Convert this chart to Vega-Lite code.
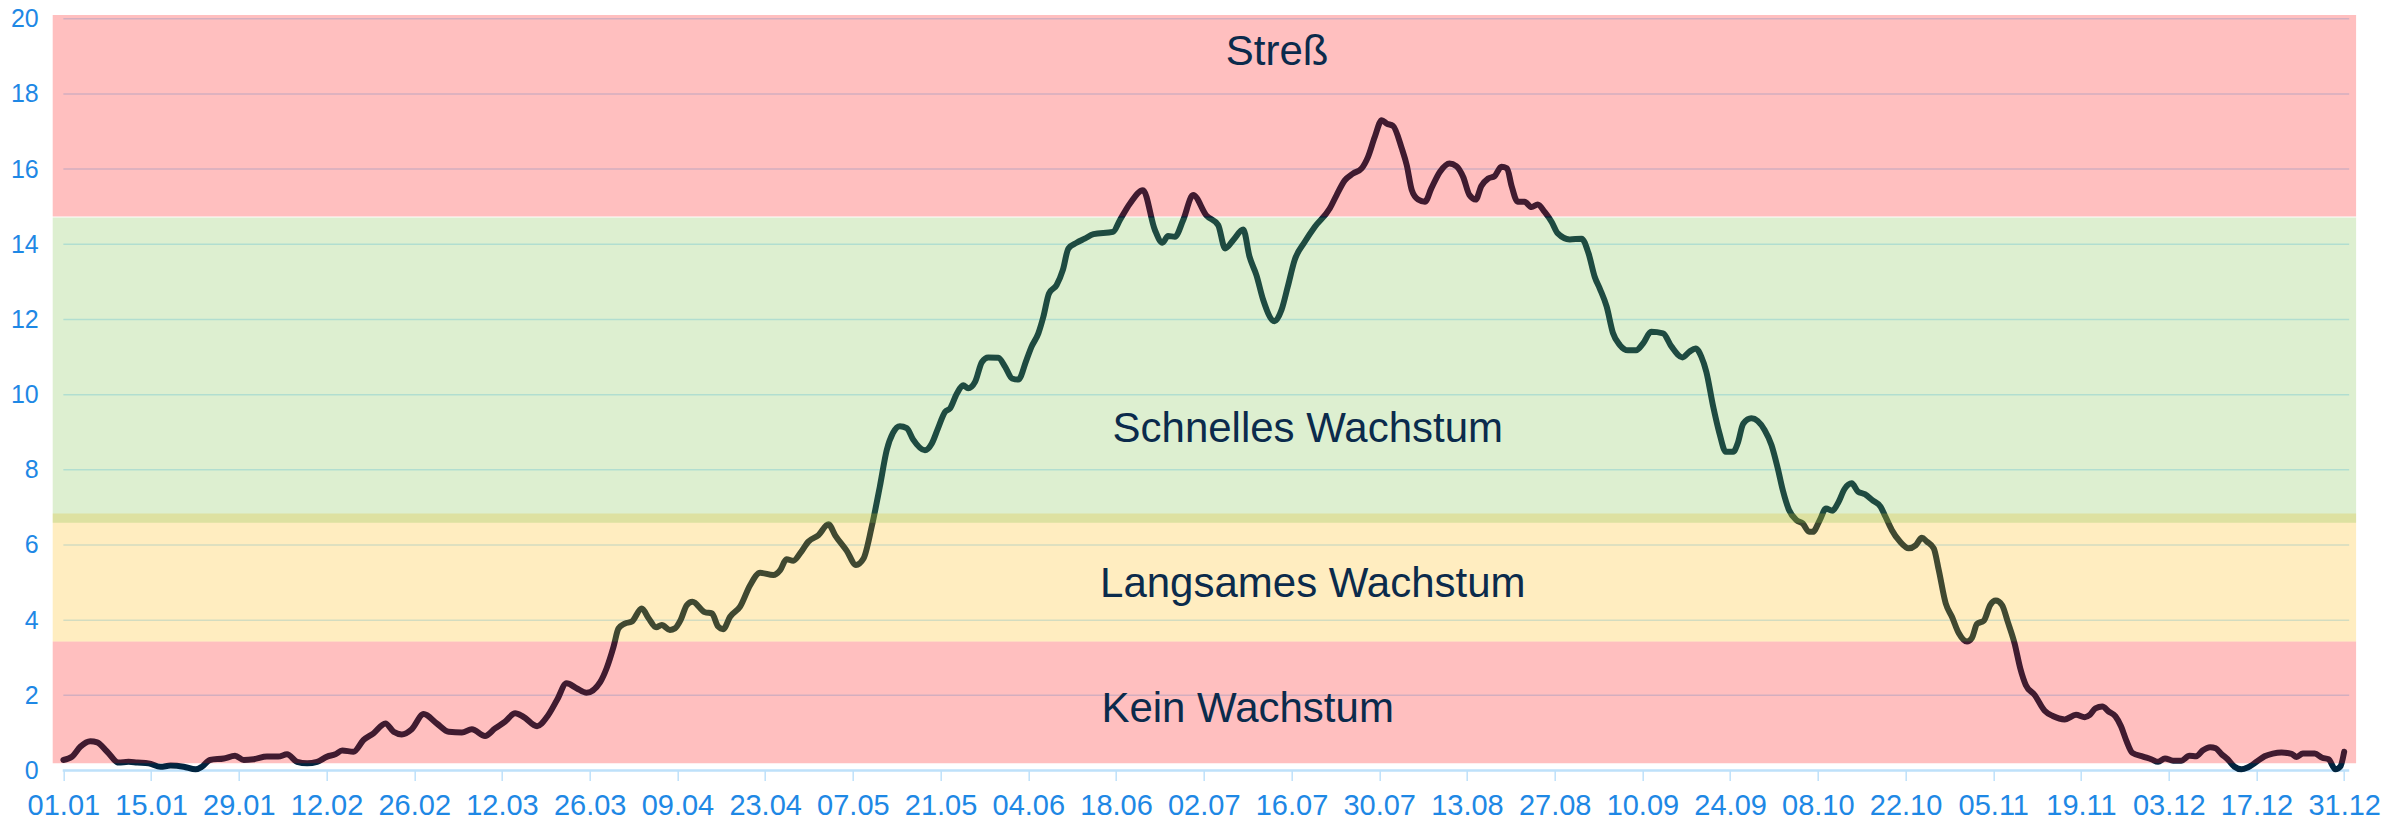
{
  "$schema": "https://vega.github.io/schema/vega-lite/v6.json",
  "autosize": {"type": "none"},
  "padding": {"left": 52.7, "top": 15, "right": 48, "bottom": 60.5},
  "width": 2303.4,
  "height": 755.5,
  "background": "white",
  "config": {"view": {"stroke": null}},
  "datasets": {
    "series": [
      {"day":0,"value":0.28},{"day":1.4,"value":0.37},{"day":2.7,"value":0.63},{"day":4.3,"value":0.78},{"day":5.4,"value":0.75},{"day":7.0,"value":0.50},{"day":8.8,"value":0.21},{"day":10.4,"value":0.23},{"day":11.8,"value":0.21},{"day":13.6,"value":0.19},{"day":15.5,"value":0.10},{"day":17.1,"value":0.13},{"day":19.2,"value":0.10},{"day":21.1,"value":0.03},{"day":22.1,"value":0.10},{"day":23.4,"value":0.28},{"day":25.6,"value":0.32},{"day":27.4,"value":0.39},{"day":28.8,"value":0.28},{"day":30.4,"value":0.30},{"day":32.5,"value":0.37},{"day":34.3,"value":0.37},{"day":35.7,"value":0.43},{"day":37.3,"value":0.23},{"day":38.9,"value":0.19},{"day":40.5,"value":0.23},{"day":42.1,"value":0.37},{"day":43.4,"value":0.43},{"day":44.5,"value":0.53},{"day":46.3,"value":0.50},{"day":47.9,"value":0.81},{"day":49.5,"value":0.99},{"day":51.4,"value":1.25},{"day":52.7,"value":1.03},{"day":54.0,"value":0.96},{"day":55.6,"value":1.10},{"day":57.5,"value":1.50},{"day":59.6,"value":1.25},{"day":61.5,"value":1.03},{"day":63.6,"value":1.01},
      {"day":65.2,"value":1.10},{"day":67.3,"value":0.92},{"day":68.9,"value":1.12},{"day":70.5,"value":1.30},{"day":72.1,"value":1.52},{"day":73.4,"value":1.43},{"day":75.6,"value":1.18},{"day":77.2,"value":1.43},{"day":78.8,"value":1.88},{"day":80.3,"value":2.32},{"day":81.9,"value":2.19},{"day":83.5,"value":2.07},{"day":85.7,"value":2.36},{"day":86.7,"value":2.72},{"day":87.8,"value":3.29},{"day":88.6,"value":3.78},{"day":89.6,"value":3.91},{"day":90.7,"value":3.96},{"day":92.3,"value":4.31},{"day":93.4,"value":4.05},{"day":94.6,"value":3.81},{"day":95.5,"value":3.87},{"day":96.8,"value":3.74},{"day":97.6,"value":3.78},{"day":98.5,"value":4.00},{"day":99.5,"value":4.40},{"day":100.4,"value":4.49},{"day":102.4,"value":4.21},{"day":103.5,"value":4.18},{"day":104.5,"value":3.83},{"day":105.3,"value":3.76},{"day":106.4,"value":4.09},{"day":108.0,"value":4.36},{"day":109.6,"value":4.93},{"day":111.2,"value":5.26},{"day":113.3,"value":5.20},{"day":114.4,"value":5.33},{"day":115.4,"value":5.62},{"day":116.5,"value":5.58},{"day":117.6,"value":5.78},{"day":118.9,"value":6.09},{"day":120.5,"value":6.26},{"day":122.1,"value":6.55},{"day":123.2,"value":6.25},{"day":125.0,"value":5.85},{"day":126.5,"value":5.47},{"day":127.7,"value":5.64},{"day":129.0,"value":6.48},{"day":130.3,"value":7.55},{"day":131.4,"value":8.52},{"day":132.4,"value":8.98},{"day":133.5,"value":9.16},{"day":134.6,"value":9.11},{"day":135.6,"value":8.81},{"day":137.5,"value":8.52},{"day":138.6,"value":8.70},{"day":139.6,"value":9.11},{"day":140.7,"value":9.54},{"day":141.5,"value":9.63},{"day":142.6,"value":10.03},{"day":143.6,"value":10.25},{"day":144.4,"value":10.17},{"day":145.5,"value":10.34},{"day":146.6,"value":10.87},{"day":147.6,"value":10.99},{"day":149.2,"value":10.98},{"day":150.3,"value":10.74},{"day":151.4,"value":10.43},{"day":152.4,"value":10.40},{"day":153.7,"value":10.92},{"day":154.5,"value":11.27},{"day":155.6,"value":11.63},{"day":156.4,"value":12.07},{"day":157.3,"value":12.69},{"day":158.5,"value":12.91},{"day":159.5,"value":13.31},{"day":160.4,"value":13.89},{"day":161.7,"value":14.04},{"day":163.0,"value":14.15},{"day":164.4,"value":14.27},{"day":167.5,"value":14.33},{"day":168.6,"value":14.64},{"day":170.2,"value":15.08},{"day":172.3,"value":15.44},{"day":174.2,"value":14.38},{"day":175.4,"value":14.04},{"day":176.3,"value":14.22},{"day":177.4,"value":14.20},{"day":178.7,"value":14.64},{"day":180.3,"value":15.31},{"day":182.4,"value":14.77},{"day":184.3,"value":14.51},{"day":185.4,"value":13.89},{"day":186.7,"value":14.11},{"day":188.3,"value":14.39},{"day":189.3,"value":13.67},{"day":190.4,"value":13.18},{"day":191.5,"value":12.51},{"day":193.3,"value":11.95},{"day":194.4,"value":12.25},{"day":195.4,"value":12.87},{"day":196.5,"value":13.58},{"day":198.1,"value":14.06},{"day":199.7,"value":14.46},{"day":202.1,"value":14.95},{"day":203.2,"value":15.31},{"day":204.5,"value":15.70},{"day":205.8,"value":15.88},{"day":207.2,"value":16.02},{"day":208.2,"value":16.32},{"day":209.3,"value":16.86},{"day":210.4,"value":17.30},{"day":211.2,"value":17.21},{"day":212.2,"value":17.15},{"day":213.6,"value":16.55},{"day":214.4,"value":16.10},{"day":215.2,"value":15.44},{"day":216.2,"value":15.19},{"day":217.3,"value":15.13},{"day":218.3,"value":15.48},{"day":219.7,"value":15.93},{"day":221.2,"value":16.15},{"day":222.3,"value":16.08},{"day":223.4,"value":15.79},{"day":224.4,"value":15.31},{"day":225.4,"value":15.19},{"day":226.3,"value":15.55},{"day":227.4,"value":15.75},{"day":228.4,"value":15.81},{"day":229.5,"value":16.06},{"day":230.4,"value":16.02},{"day":231.1,"value":15.57},{"day":232.1,"value":15.13},{"day":233.2,"value":15.13},{"day":234.3,"value":14.99},{"day":235.3,"value":15.06},{"day":236.4,"value":14.86},{"day":237.5,"value":14.60},{"day":238.5,"value":14.29},{"day":240.4,"value":14.13},{"day":242.3,"value":14.15},{"day":243.4,"value":13.76},{"day":244.4,"value":13.13},{"day":245.2,"value":12.82},{"day":246.3,"value":12.34},{"day":247.3,"value":11.64},{"day":248.4,"value":11.32},{"day":249.7,"value":11.18},{"day":251.0,"value":11.18},{"day":252.1,"value":11.36},{"day":253.4,"value":11.67},{"day":255.3,"value":11.63},{"day":256.6,"value":11.29},{"day":258.4,"value":10.99},{"day":259.5,"value":11.14},{"day":260.5,"value":11.23},{"day":261.4,"value":11.01},{"day":262.2,"value":10.61},{"day":263.3,"value":9.68},{"day":264.3,"value":8.97},{"day":265.3,"value":8.48},{"day":266.5,"value":8.48},{"day":267.2,"value":8.70},{"day":268.1,"value":9.23},{"day":269.4,"value":9.37},{"day":270.4,"value":9.30},{"day":271.5,"value":9.06},{"day":272.6,"value":8.66},{"day":273.6,"value":8.04},{"day":274.4,"value":7.46},{"day":275.4,"value":6.93},{"day":276.6,"value":6.66},{"day":277.6,"value":6.57},{"day":278.6,"value":6.35},{"day":279.2,"value":6.35},{"day":280.3,"value":6.66},{"day":281.3,"value":6.97},{"day":282.3,"value":6.91},{"day":283.2,"value":7.11},{"day":284.3,"value":7.50},{"day":285.4,"value":7.64},{"day":286.4,"value":7.42},{"day":287.5,"value":7.35},{"day":288.8,"value":7.18},{"day":290.0,"value":7.02},{"day":290.8,"value":6.75},{"day":291.8,"value":6.40},{"day":293.1,"value":6.09},{"day":294.5,"value":5.91},{"day":295.6,"value":5.99},{"day":296.6,"value":6.19},{"day":297.4,"value":6.09},{"day":298.5,"value":5.91},{"day":299.3,"value":5.33},{"day":300.4,"value":4.45},{"day":301.4,"value":4.09},{"day":302.5,"value":3.65},{"day":303.8,"value":3.43},{"day":304.6,"value":3.53},{"day":305.4,"value":3.90},{"day":306.5,"value":3.99},{"day":307.5,"value":4.40},{"day":308.4,"value":4.52},{"day":309.4,"value":4.40},{"day":310.3,"value":3.96},{"day":311.4,"value":3.38},{"day":312.3,"value":2.72},{"day":313.2,"value":2.27},{"day":314.6,"value":2.01},{"day":316.2,"value":1.59},{"day":317.5,"value":1.45},{"day":319.4,"value":1.36},{"day":321.2,"value":1.48},{"day":322.6,"value":1.42},{"day":323.4,"value":1.48},{"day":324.3,"value":1.65},{"day":325.4,"value":1.70},{"day":326.4,"value":1.57},{"day":327.5,"value":1.44},{"day":328.4,"value":1.17},{"day":329.2,"value":0.81},{"day":330.2,"value":0.47},{"day":331.9,"value":0.37},{"day":333.2,"value":0.30},{"day":334.3,"value":0.23},{"day":335.4,"value":0.32},{"day":336.7,"value":0.26},{"day":338.0,"value":0.26},{"day":339.3,"value":0.39},{"day":340.4,"value":0.38},{"day":341.4,"value":0.53},{"day":342.6,"value":0.62},{"day":343.5,"value":0.59},{"day":344.4,"value":0.44},{"day":345.4,"value":0.30},{"day":346.5,"value":0.10},{"day":347.6,"value":0.03},{"day":348.6,"value":0.08},{"day":350.0,"value":0.23},{"day":351.3,"value":0.38},{"day":352.6,"value":0.45},{"day":354.0,"value":0.48},{"day":355.6,"value":0.44},{"day":356.4,"value":0.36},{"day":357.4,"value":0.45},{"day":359.3,"value":0.45},{"day":360.5,"value":0.34},{"day":361.5,"value":0.30},{"day":362.6,"value":0.03},{"day":363.4,"value":0.11},{"day":364.0,"value":0.50}
    ],
    "bands": [
      {"zone":"Kein Wachstum","lo":0.19,"hi":3.43},
      {"zone":"Langsames Wachstum","lo":3.43,"hi":6.84},
      {"zone":"Schnelles Wachstum","lo":6.59,"hi":14.71},
      {"zone":"Streß","lo":14.74,"hi":20.1}
    ],
    "grid": [
      {"level":2},{"level":4},{"level":6},{"level":8},{"level":10},{"level":12},{"level":14},{"level":16},{"level":18},{"level":20}
    ],
    "labels": [
      {"label":"Streß","day":193.7,"value":18.77},
      {"label":"Schnelles Wachstum","day":198.6,"value":8.75},
      {"label":"Langsames Wachstum","day":199.4,"value":4.62},
      {"label":"Kein Wachstum","day":189.0,"value":1.30}
    ]
  },
  "layer": [
    {
      "data": {"name": "grid"},
      "mark": {"type": "rule", "color": "#c5e9ff", "strokeWidth": 1.5},
      "encoding": {
        "x": {
          "datum": 0, "type": "quantitative",
          "scale": {"domain": [-1.7, 365.9], "nice": false, "zero": false},
          "axis": {
            "title": null, "domain": false, "grid": false,
            "values": [0,14,28,42,56,70,84,98,112,126,140,154,168,182,196,210,224,238,252,266,280,294,308,322,336,350,364],
            "labelExpr": "timeFormat(datetime(2023, 0, 1 + datum.value), '%d.%m')",
            "ticks": true, "tickColor": "#bee1fa", "tickWidth": 1.5, "tickSize": 10,
            "labelFont": "Liberation Sans Narrow, Liberation Sans", "labelFontSize": 29, "labelColor": "#1e88e5",
            "labelPadding": 11, "labelOverlap": false, "labelFlush": false, "labelBound": false
          }
        },
        "x2": {"datum": 364.8},
        "y": {
          "field": "level", "type": "quantitative",
          "scale": {"domain": [0, 20.1], "nice": false, "zero": false},
          "axis": {
            "title": null, "domain": false, "grid": false, "ticks": false,
            "values": [0,2,4,6,8,10,12,14,16,18,20],
            "labelFont": "Liberation Sans", "labelFontSize": 25, "labelColor": "#1e88e5",
            "labelPadding": 14.5, "labelOverlap": false, "labelBound": false, "labelFlush": false
          }
        }
      }
    },
    {
      "data": {"values": [{"base": 0}]},
      "mark": {"type": "rule", "color": "#bee1fa", "strokeWidth": 2.5},
      "encoding": {
        "x": {"datum": -0.1, "type": "quantitative", "axis": {"title": null}},
        "x2": {"datum": 364.8},
        "y": {"field": "base", "type": "quantitative", "axis": {"title": null}}
      }
    },
    {
      "data": {"name": "series"},
      "mark": {"type": "line", "interpolate": "monotone", "strokeWidth": 6, "color": "#012540", "strokeCap": "round", "strokeJoin": "round"},
      "encoding": {
        "x": {"field": "day", "type": "quantitative", "axis": {"title": null}},
        "y": {"field": "value", "type": "quantitative", "axis": {"title": null}}
      }
    },
    {
      "data": {"name": "bands"},
      "mark": {"type": "rect", "opacity": 0.25},
      "encoding": {
        "y": {"field": "lo", "type": "quantitative", "axis": {"title": null}},
        "y2": {"field": "hi"},
        "color": {
          "field": "zone", "type": "nominal", "legend": null,
          "scale": {"domain": ["Kein Wachstum", "Langsames Wachstum", "Schnelles Wachstum", "Streß"], "range": ["#ff0000", "#ffb703", "#77bf43", "#ff0000"]}
        }
      }
    },
    {
      "data": {"name": "labels"},
      "mark": {"type": "text", "font": "Liberation Sans", "fontSize": 42, "color": "#0b2b4c", "align": "center", "baseline": "alphabetic"},
      "encoding": {
        "x": {"field": "day", "type": "quantitative", "axis": {"title": null}},
        "y": {"field": "value", "type": "quantitative", "axis": {"title": null}},
        "text": {"field": "label"}
      }
    }
  ]
}
